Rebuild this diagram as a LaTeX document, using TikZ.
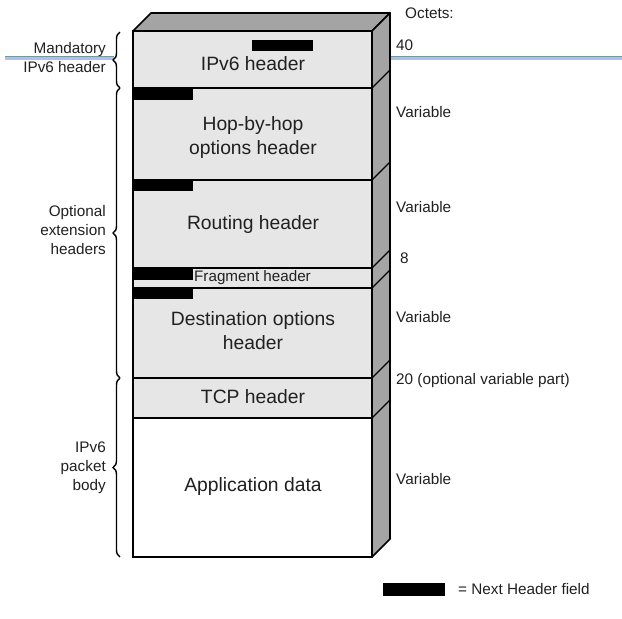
\documentclass[tikz,border=0pt]{standalone}
\usepackage{fontspec}
\setmainfont{Liberation Sans}
\usetikzlibrary{decorations.pathreplacing}
\definecolor{frontgray}{HTML}{E6E6E6}
\definecolor{sidegray}{HTML}{A4A4A4}
\definecolor{linelav}{HTML}{B4BCEC}
\definecolor{lineteal}{HTML}{6E9C9C}
\definecolor{txt}{HTML}{202020}
\tikzset{
  layer/.style={draw=black, line width=1.7pt, fill=frontgray},
  face/.style={draw=black, line width=1.7pt, fill=sidegray, line join=round},
  nhf/.style={fill=black, draw=none},
  biglabel/.style={font=\fontsize{19.3}{23}\selectfont, text=txt, align=center, inner sep=0pt},
  sidelabel/.style={font=\fontsize{15.3}{19}\selectfont, text=txt, anchor=west, inner sep=0pt},
  leftlabel/.style={font=\fontsize{15.3}{19}\selectfont, text=txt, align=right, anchor=east, inner sep=0pt},
  bracestyle/.style={decorate, decoration={brace, amplitude=7pt}, line width=1.4pt},
}
\begin{document}
\begin{tikzpicture}[x=1pt, y=-1pt]
\useasboundingbox (0,0) rectangle (622,619);
% horizontal marker line
\fill[linelav] (5,56) rectangle (114,59.5);
\draw[lineteal, line width=0.8pt] (5,56) -- (114,56);
\fill[linelav] (391,56) rectangle (622,59.5);
\draw[lineteal, line width=0.8pt] (391,56) -- (622,56);
% 3D faces
\draw[face] (133,31) -- (151,13) -- (390,13) -- (372,31) -- cycle;
\draw[face] (372,31) -- (390,13) -- (390,539) -- (372,557) -- cycle;
\foreach \yy in {88,180,268,288,378,418}
  \draw[black, line width=1.4pt] (372,\yy) -- (390,\yy-18);
% front layers
\draw[layer] (133,31) rectangle (372,88);
\draw[layer] (133,88) rectangle (372,180);
\draw[layer] (133,180) rectangle (372,268);
\draw[layer] (133,268) rectangle (372,288);
\draw[layer] (133,288) rectangle (372,378);
\draw[layer] (133,378) rectangle (372,418);
\draw[layer, fill=white] (133,418) rectangle (372,557);
% next header fields
\fill[nhf] (252,40) rectangle (313,51);
\fill[nhf] (134,89) rectangle (193,100);
\fill[nhf] (134,181) rectangle (193,191);
\fill[nhf] (134,269) rectangle (193,280);
\fill[nhf] (134,289) rectangle (193,299);
% box labels
\node[biglabel] (ipv6) at (253,64) {IPv6 header};
\node[biglabel] (hop) at (253,138) {Hop-by-hop\\[1pt]options header};
\node[biglabel] (rout) at (253,225) {Routing header};
\node[font=\fontsize{15.2}{17}\selectfont, text=txt, inner sep=0pt] (frag) at (252.5,278) {Fragment header};
\node[biglabel] (dest) at (253,331) {Destination options\\[1pt]header};
\node[biglabel] (tcp) at (253,397) {TCP header};
\node[biglabel] (app) at (253,487) {Application data};
% octets
\node[sidelabel] (oct) at (405,13) {Octets:};
\node[sidelabel] (o40) at (396,45) {40};
\node[sidelabel] (v1) at (396,112) {Variable};
\node[sidelabel] (v2) at (396,207) {Variable};
\node[sidelabel] (o8) at (400,258) {8};
\node[sidelabel] (v3) at (396,317) {Variable};
\node[sidelabel] (o20) at (396,381) {20 (optional variable part)};
\node[sidelabel] (v4) at (396,479) {Variable};
% braces
\draw[bracestyle] (120,88) -- (120,32);
\draw[bracestyle] (120,378) -- (120,88);
\draw[bracestyle] (120,557) -- (120,378);
\node[leftlabel] (mand) at (106,58) {Mandatory\\IPv6 header};
\node[leftlabel] (opt) at (106,230) {Optional\\extension\\headers};
\node[leftlabel] (body) at (106,468) {IPv6\\packet\\body};
% legend
\fill[nhf] (383,583) rectangle (445,596);
\node[sidelabel] (leg) at (458,589) {= Next Header field};
\end{tikzpicture}
\end{document}
